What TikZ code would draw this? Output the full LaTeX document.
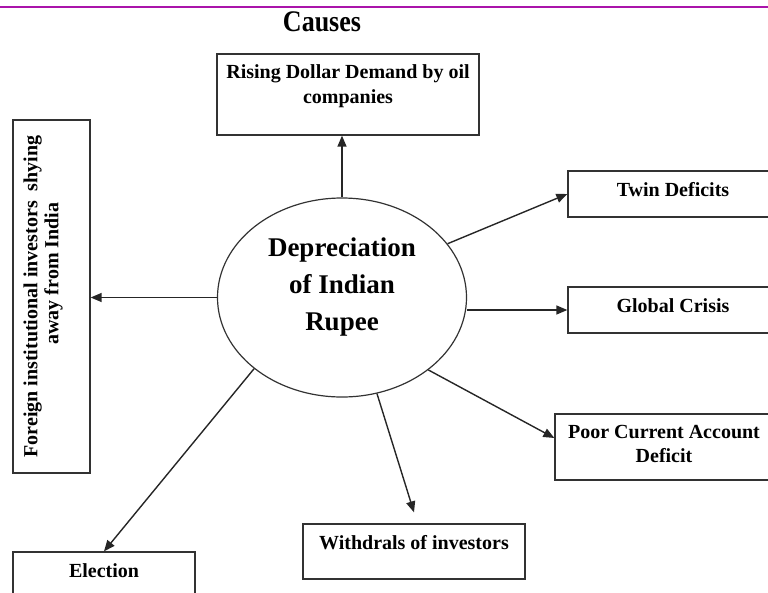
\documentclass[tikz,border=0pt]{standalone}
\usepackage{fontspec}
\setmainfont{Liberation Serif}
\usetikzlibrary{positioning,shapes.geometric,arrows.meta}
\definecolor{rulepurple}{RGB}{170,20,170}
\definecolor{boxline}{RGB}{50,50,50}
\tikzset{
  box/.style={draw=boxline, line width=1.3pt, rectangle, inner sep=0pt},
  boxtext/.style={font=\fontsize{20}{25}\selectfont\bfseries, align=center, inner sep=0pt},
  cause/.style={draw=black!85, line width=1.4pt, -{Triangle[length=11pt,width=9pt]}},
}

\begin{document}
\begin{tikzpicture}[x=1pt,y=-1pt]
  \useasboundingbox (0,0) rectangle (768,592);
  % Heading
  \draw[rulepurple, line width=2.6pt] (0,7) -- (768,7);
  \node[font=\fontsize{26}{28}\selectfont\bfseries, inner sep=0pt] (title) at (322,22) {\scalebox{1}[1.15]{Causes}};
  % Centre
  \node[ellipse, draw=boxline, line width=1.2pt, minimum width=249pt, minimum height=199pt, inner sep=0pt] (dep) at (342,297.5) {};
  \node[font=\fontsize{27}{37}\selectfont\bfseries, align=center, inner sep=0pt] (deptext) at (342,287.5) {Depreciation\\of Indian\\Rupee};
  % Boxes
  \node[box, minimum width=262pt, minimum height=81pt] (rising) at (348,94.5) {};
  \node[boxtext, below=11pt of rising.north] (risingtext) {Rising Dollar Demand by oil\\companies};
  \node[box, minimum width=210pt, minimum height=46pt] (twin) at (673,194) {};
  \node[boxtext, below=12pt of twin.north] (twintext) {Twin Deficits};
  \node[box, minimum width=210pt, minimum height=46pt] (global) at (673,310) {};
  \node[boxtext, below=12pt of global.north] (globaltext) {Global Crisis};
  \node[box, minimum width=218pt, minimum height=66pt] (poor) at (664,447) {};
  \node[boxtext, below=12pt of poor.north, font=\fontsize{20}{24}\selectfont\bfseries] (poortext) {Poor Current Account\\Deficit};
  \node[box, minimum width=222pt, minimum height=55pt] (withdr) at (414,551.5) {};
  \node[boxtext, below=12pt of withdr.north] (withdrtext) {Withdrals of investors};
  \node[box, minimum width=182pt, minimum height=48pt] (election) at (104,576) {};
  \node[boxtext, below=12pt of election.north] (electiontext) {Election};
  \node[box, minimum width=77pt, minimum height=353pt] (foreign) at (51.5,296.5) {};
  \node[boxtext, rotate=90, font=\fontsize{20}{21}\selectfont\bfseries] (foreigntext) at (43,296.5)
    {Foreign institutional investors\ \ shying\\\hspace*{46pt}away from India};
  % Arrows
  \draw[cause] (dep.north) -- (dep.north |- rising.south);
  \draw[cause] (dep.27) -- (twin.west);
  \draw[cause] (dep.east |- global.west) -- (global.west);
  \draw[cause] (dep.-40) -- ([yshift=9pt]poor.west);
  \draw[cause] (dep.-70) -- ([yshift=11pt]withdr.north);
  \draw[cause] (dep.-141) -- (election.north);
  \draw[cause] (dep.west) -- (dep.west -| foreign.east);
\end{tikzpicture}
\end{document}
